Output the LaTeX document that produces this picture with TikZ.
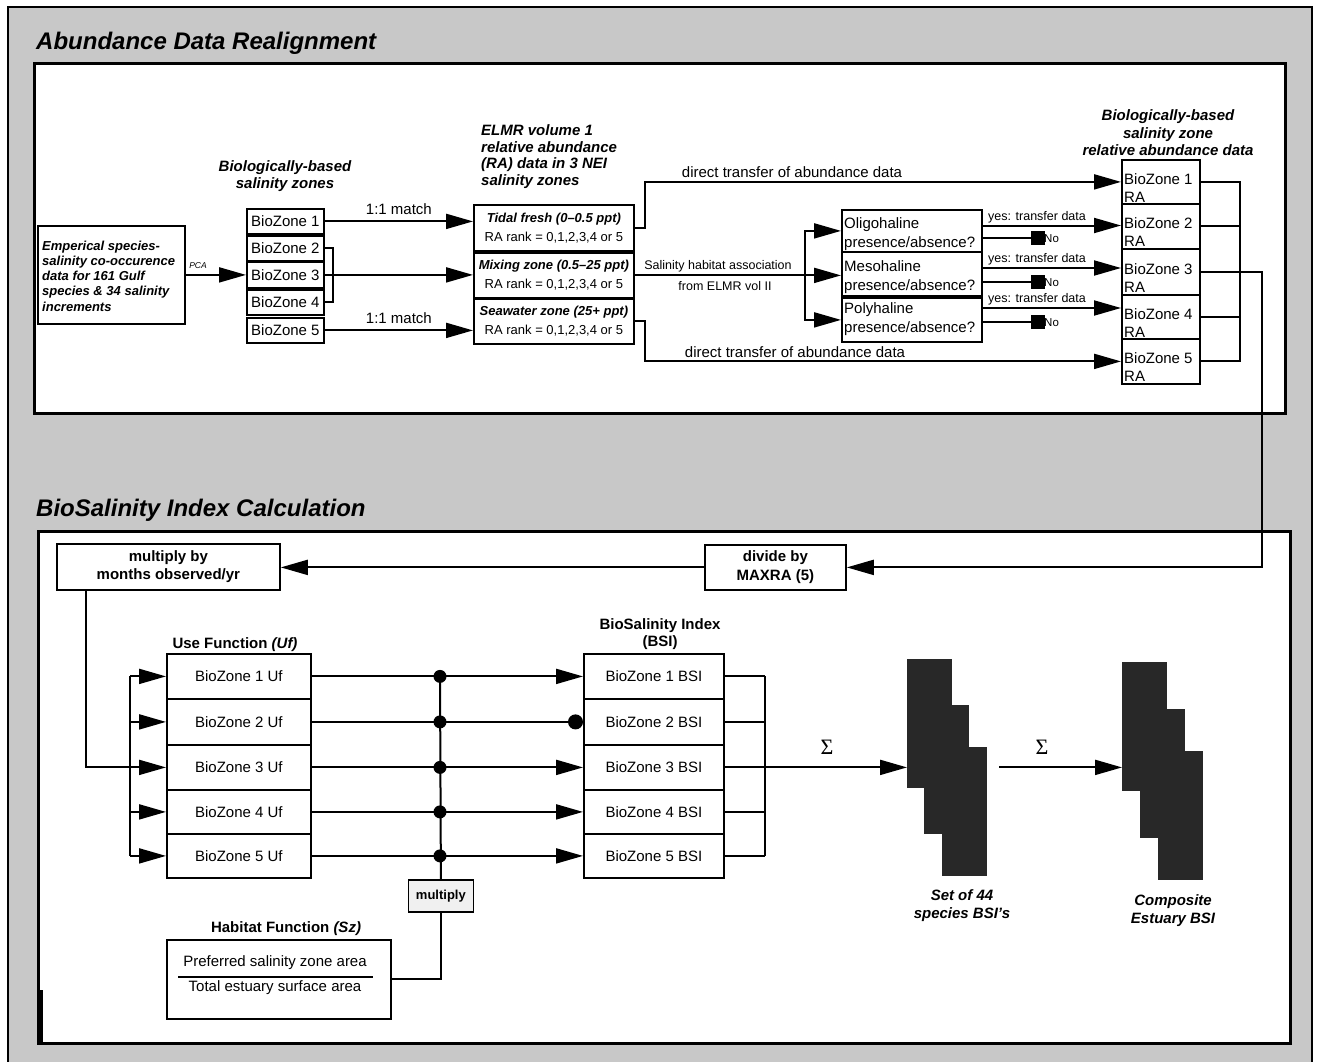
\documentclass[tikz,border=0pt]{standalone}
\usepackage{fontspec}
\setmainfont{Liberation Sans}
\newfontfamily\sigmafont{Liberation Serif}
\usetikzlibrary{arrows.meta,calc}
\newcommand{\fs}[2]{\fontsize{#1}{#2}\selectfont}
\definecolor{bggray}{RGB}{200,200,200}
\definecolor{stackfill}{RGB}{40,40,40}
\begin{document}
\begin{tikzpicture}[x=1pt,y=-1pt,
 ln/.style={line width=2pt},
 arr/.style={line width=2pt,-{Triangle[length=27pt,width=15pt]}},
 dotarr/.style={line width=2pt,-{Circle[length=15pt]}},
 box/.style={draw,line width=1.8pt,fill=white,inner sep=0pt,anchor=north west},
 panel/.style={draw,line width=2.8pt,fill=white,inner sep=0pt,anchor=north west},
 lbl/.style={inner sep=0pt},
 stack/.style={fill=stackfill,draw=none,inner sep=0pt,anchor=north west,minimum width=45pt,minimum height=129pt},
 nosq/.style={fill=black,minimum width=14pt,minimum height=14pt,inner sep=0pt},
]
% background and frame
\fill[white] (0,0) rectangle (1317,1062);
\fill[bggray] (8,7) rectangle (1312,1062);
\useasboundingbox (0,0) rectangle (1317,1062);
\draw[line width=2.5pt] (8,1062) -- (8,7) -- (1312,7) -- (1312,1062);

% titles and panels
\node[lbl,font=\bfseries\itshape\fs{24}{28},anchor=base west] (t1) at (36,50) {Abundance Data Realignment};
\node[panel,minimum width=1251pt,minimum height=350pt] (p1) at (33,62) {};
\node[lbl,font=\bfseries\itshape\fs{24}{28},anchor=base west] (t2) at (36,516) {BioSalinity Index Calculation};
\node[panel,minimum width=1252pt,minimum height=512pt] (p2) at (37,530) {};
\draw[line width=5pt] (40,990) -- (40,1043);

% ---------- Panel 1 ----------
\node[box,minimum width=147pt,minimum height=98pt] (emp) at (37,225) {};
\node[lbl,anchor=west,align=left,font=\bfseries\itshape\fs{13}{15.3}] (empt) at (42,276)
 {Emperical species-\\salinity co-occurence\\data for 161 Gulf\\species \& 34 salinity\\increments};
\node[lbl,font=\itshape\fs{8.5}{10}] (pca) at (198,266) {PCA};

\node[lbl,align=center,font=\bfseries\itshape\fs{15}{17}] (bzt) at (285,176) {Biologically-based\\salinity zones};
\foreach \i/\t/\h in {1/208/25,2/235/25,3/261/26,4/289/25,5/317/25}{
 \node[box,minimum width=77pt,minimum height=\h*1pt,font=\fs{15}{18}] (bza\i) at (246,\t) {BioZone \i};
}

\node[lbl,anchor=west,align=left,font=\bfseries\itshape\fs{15}{16.5}] (elmrt) at (481,156.5)
 {ELMR volume 1\\relative abundance\\(RA) data in 3 NEI\\salinity zones};
\node[box,minimum width=160pt,minimum height=46pt,align=center,font=\fs{13}{19}] (tid) at (473,204)
 {{\bfseries\itshape Tidal fresh (0–0.5 ppt)}\\RA rank = 0,1,2,3,4 or 5};
\node[box,minimum width=160pt,minimum height=45pt,align=center,font=\fs{13}{19}] (mix) at (473,252)
 {{\bfseries\itshape Mixing zone (0.5–25 ppt)}\\RA rank = 0,1,2,3,4 or 5};
\node[box,minimum width=160pt,minimum height=45pt,align=center,font=\fs{13}{19}] (sea) at (473,298)
 {{\bfseries\itshape Seawater zone (25+ ppt)}\\RA rank = 0,1,2,3,4 or 5};

\draw[arr] (emp.east) -- (bza3.west);
\draw[ln] (bza2.east) -- ++(8,0) |- (bza4.east);
\draw[arr] (bza1.east) -- (bza1.east -| tid.west) node[midway,above=2pt,font=\fs{15}{18}] (m1) {1:1 match};
\draw[arr] (bza3.east) -- (bza3.east -| mix.west);
\draw[arr] (bza5.east) -- (bza5.east -| sea.west) node[midway,above=2pt,font=\fs{15}{18}] (m5) {1:1 match};

% presence boxes
\node[box,minimum width=140pt,minimum height=42pt] (oli) at (841,209) {};
\node[box,minimum width=140pt,minimum height=44pt] (meso) at (841,251) {};
\node[box,minimum width=140pt,minimum height=44pt] (poly) at (841,297) {};
\node[lbl,anchor=west,align=left,font=\fs{15}{19}] (olit) at (844,234) {Oligohaline\\presence/absence?};
\node[lbl,anchor=west,align=left,font=\fs{15}{19}] (mesot) at (844,277) {Mesohaline\\presence/absence?};
\node[lbl,anchor=west,align=left,font=\fs{15}{19}] (polyt) at (844,319) {Polyhaline\\presence/absence?};

% right RA boxes
\node[lbl,align=center,font=\bfseries\itshape\fs{15}{17.5}] (rbt) at (1168,133) {Biologically-based\\salinity zone\\relative abundance data};
\foreach \i/\t/\h in {1/159/44,2/203/45,3/248/46,4/294/44,5/338/45}{
 \node[box,minimum width=78pt,minimum height=\h*1pt] (rb\i) at (1121,\t) {};
 \node[lbl,anchor=west,align=left,font=\fs{15}{18}] (rbt\i) at ($(rb\i.west)+(3,6)$) {BioZone \i\\RA};
}

% direct transfers
\draw[arr] (tid.east) -- ++(10,0) |- (rb1.west);
\node[lbl,anchor=base,font=\fs{15}{18}] (dt1) at (792,178) {direct transfer of abundance data};
\draw[arr] (sea.east) -- ++(10,0) |- (rb5.west);
\node[lbl,anchor=base,font=\fs{15}{18}] (dt2) at (795,357) {direct transfer of abundance data};

% salinity habitat association
\coordinate (jn) at ($(mix.east)+(170,0)$);
\draw[ln] (mix.east) -- (jn);
\draw[arr] (jn) |- (oli.west);
\draw[arr] (jn) -- (jn -| meso.west);
\draw[arr] (jn) |- (poly.west);
\node[lbl,anchor=base,font=\fs{12.5}{15}] (sha1) at (718,269) {Salinity habitat association};
\node[lbl,anchor=base,font=\fs{12.5}{15}] (sha2) at (725,290) {from ELMR vol II};

% yes / no
\coordinate (ya) at (0,225.5);
\coordinate (yb) at (0,268);
\coordinate (yc) at (0,308);
\draw[arr] (oli.east |- ya) -- (rb2.west |- ya);
\draw[arr] (meso.east |- yb) -- (rb3.west |- yb);
\draw[arr] (poly.east |- yc) -- (rb4.west |- yc);
\node[lbl,anchor=base,font=\fs{12.5}{15}] (y1) at (1037,220) {yes: transfer data};
\node[lbl,anchor=base,font=\fs{12.5}{15}] (y2) at (1037,262) {yes: transfer data};
\node[lbl,anchor=base,font=\fs{12.5}{15}] (y3) at (1037,302.5) {yes: transfer data};
\node[nosq] (n1) at (1038,238) {};
\node[nosq] (n2) at (1038,282) {};
\node[nosq] (n3) at (1038,322) {};
\draw[ln] (oli.east |- n1) -- (n1.west);
\draw[ln] (meso.east |- n2) -- (n2.west);
\draw[ln] (poly.east |- n3) -- (n3.west);
\node[lbl,anchor=west,font=\fs{11.5}{13}] (n1t) at (1044,239) {No};
\node[lbl,anchor=west,font=\fs{11.5}{13}] (n2t) at (1044,283) {No};
\node[lbl,anchor=west,font=\fs{11.5}{13}] (n3t) at (1044,323) {No};

% right bracket and link to panel 2
\coordinate (rbx) at ($(rb1.east)+(39,0)$);
\draw[ln] (rb1.east) -- (rbx) |- (rb5.east);
\draw[ln] (rb2.east) -- (rb2.east -| rbx);
\draw[ln] (rb4.east) -- (rb4.east -| rbx);

% ---------- Panel 2 ----------
\node[box,minimum width=223pt,minimum height=46pt,align=center,font=\bfseries\fs{15}{18}] (mul) at (56,543) {multiply by\\months observed/yr};
\node[box,minimum width=141pt,minimum height=45pt,align=center,font=\bfseries\fs{15}{19}] (div) at (704,544) {divide by\\MAXRA (5)};
\draw[arr] (rb3.east) -- ++(61,0) |- (div.east);
\draw[arr] (div.west) -- (div.west -| mul.east);

\node[lbl,anchor=base,font=\bfseries\fs{15}{18}] (uft) at (235,648) {Use Function \textit{(Uf)}};
\node[lbl,align=center,font=\bfseries\fs{15}{17}] (bsit) at (660,634) {BioSalinity Index\\(BSI)};
\foreach \i/\t/\h in {1/653/45,2/698/46,3/744/45,4/789/44,5/833/44}{
 \node[box,minimum width=144pt,minimum height=\h*1pt,font=\fs{15}{18}] (uf\i) at (166,\t) {BioZone \i{} Uf};
 \node[box,minimum width=140pt,minimum height=\h*1pt,font=\fs{15}{18}] (bsi\i) at (583,\t) {BioZone \i{} BSI};
}

\coordinate (mdown) at ($(mul.south west)+(30,0)$);
\coordinate (ufx) at (130,0);
\draw[ln] (mdown) |- (uf3.west -| ufx);
\draw[ln] (uf1.west -| ufx) -- (uf5.west -| ufx);
\foreach \i in {1,...,5}{\draw[arr] (uf\i.west -| ufx) -- (uf\i.west);}

\node[box,minimum width=65pt,minimum height=32pt,fill=gray!12,font=\bfseries\fs{13}{15}] (mlt) at (407.5,879) {multiply};
\coordinate (dx) at (440,0);
\foreach \i in {1,3,4,5}{\draw[arr] (uf\i.east) -- (bsi\i.west);}
\draw[dotarr] (uf2.east) -- (bsi2.west);
\draw[ln] (uf1.east -| dx) -- (mlt.north);
\foreach \i in {1,...,5}{\fill (uf\i.east -| dx) circle (6.5pt);}

\node[lbl,anchor=base,font=\bfseries\fs{15}{18}] (habt) at (286,932) {Habitat Function \textit{(Sz)}};
\node[box,minimum width=224pt,minimum height=79pt] (hab) at (166,939) {};
\node[lbl,font=\fs{15}{18}] (habn) at (275,963) {Preferred salinity zone area};
\node[lbl,font=\fs{15}{18}] (habd) at (275,988) {Total estuary surface area};
\draw[line width=2pt] ($(hab.west)+(12,-2)$) -- ($(hab.west)+(207,-2)$);
\draw[ln] (mlt.south) |- (hab.east);

% BSI bracket and sums
\coordinate (bx) at (765,0);
\foreach \i in {1,...,5}{\draw[ln] (bsi\i.east) -- (bsi\i.east -| bx);}
\draw[ln] (bsi1.east -| bx) -- (bsi5.east -| bx);

\node[stack] (s1a) at (907,659) {};
\node[stack] (s1b) at (924,705) {};
\node[stack] (s1c) at (942,747) {};
\node[stack] (s2a) at (1122,662) {};
\node[stack] (s2b) at (1140,709) {};
\node[stack] (s2c) at (1158,751) {};

\draw[arr] (bsi3.east -| bx) -- (bsi3.east -| s1a.west);
\coordinate (a2s) at ($(s1c.east |- bsi3.east)+(12,0)$);
\draw[arr] (a2s) -- (a2s -| s2a.west);
\node[lbl,font=\sigmafont\fs{22}{24}] (sg1) at (827,747) {Σ};
\node[lbl,font=\sigmafont\fs{22}{24}] (sg2) at (1042,747) {Σ};

\node[lbl,align=center,font=\bfseries\itshape\fs{15}{18}] (s1t) at (962,906) {Set of 44\\species BSI's};
\node[lbl,align=center,font=\bfseries\itshape\fs{15}{18}] (s2t) at (1173,911) {Composite\\Estuary BSI};
\end{tikzpicture}
\end{document}
